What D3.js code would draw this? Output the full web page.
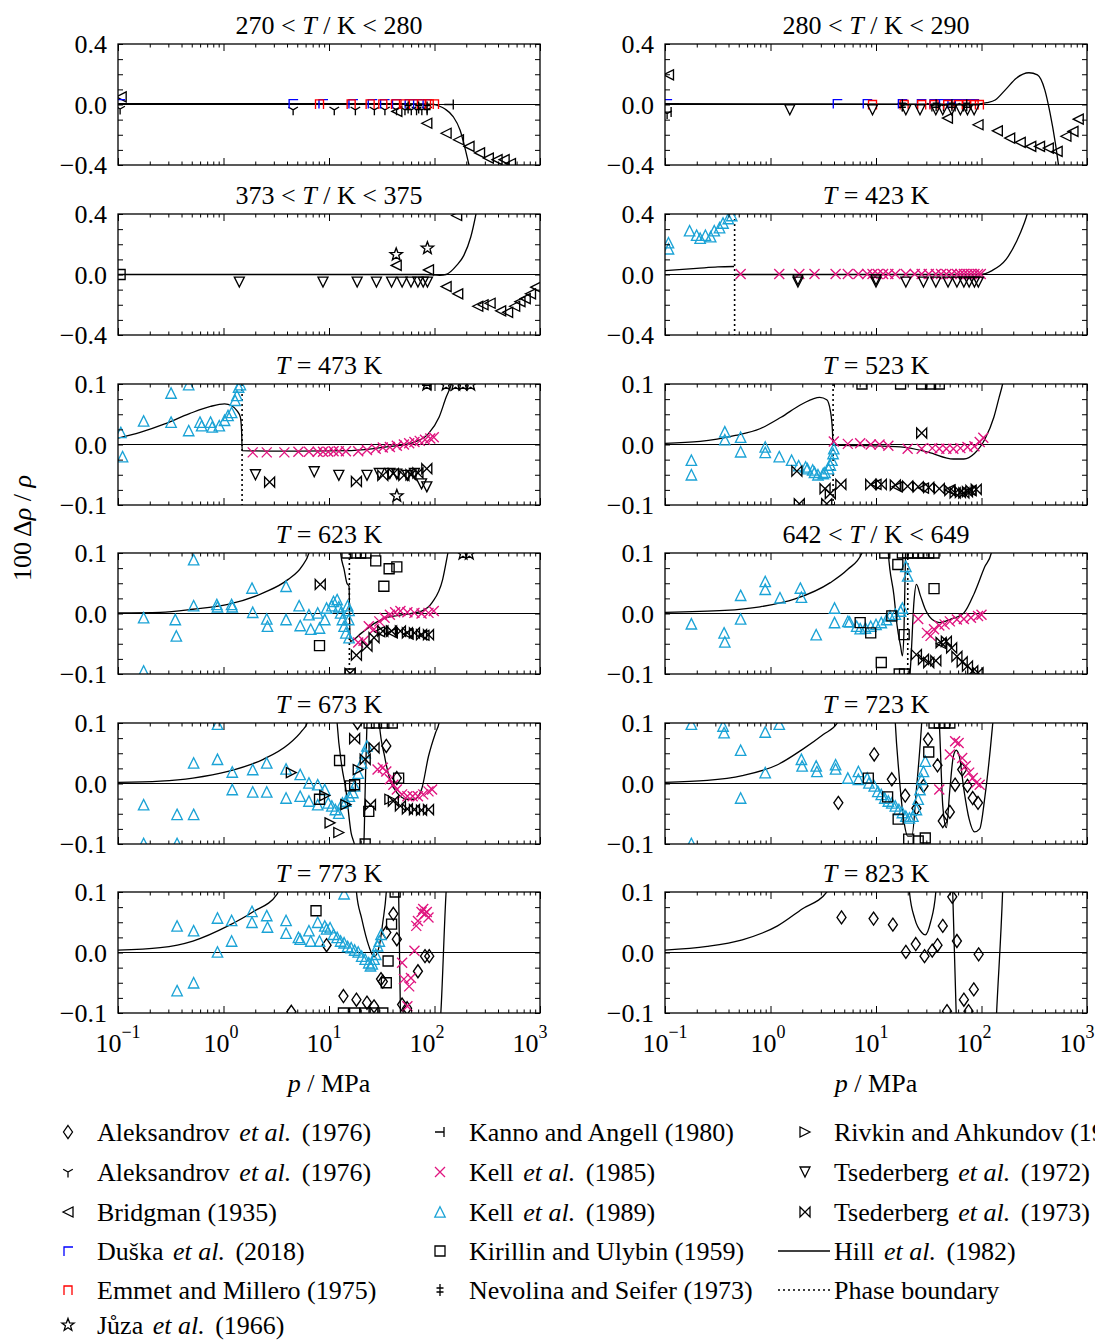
<!DOCTYPE html>
<html>
<head>
<meta charset="utf-8">
<script src="https://cdn.jsdelivr.net/npm/d3@7"></script>
<style>
  body { margin: 0; background: #fff; }
  svg { display: block; font-family: "Liberation Serif", "DejaVu Serif", serif; }
</style>
</head>
<body>
<svg id="chart"></svg>
<script>
// panel titles, y limits and phase boundary pressure (MPa) per panel
const panelTitles = ["270 < T / K < 280", "280 < T / K < 290", "373 < T / K < 375", "T = 423 K",
  "T = 473 K", "T = 523 K", "T = 623 K", "642 < T / K < 649",
  "T = 673 K", "T = 723 K", "T = 773 K", "T = 823 K"];
const yLimits = [0.4, 0.4, 0.4, 0.4, 0.1, 0.1, 0.1, 0.1, 0.1, 0.1, 0.1, 0.1];
const phaseBoundary = [null, null, null, 0.457, 1.50, 3.92, 15.6, 20.0, null, null, null, null];
const xTickExponents = [-1, 0, 1, 2, 3];

// data points: [panel, log10(p / MPa), 100 Δρ/ρ]
const aleksandrov1976a = [
  [8,1.543,0.062],[8,1.27,0.1],[8,1.643,0.009],
  [9,0.643,-0.032],[9,0.983,0.048],[9,1.15,0.007],[9,1.277,-0.02],[9,1.383,-0.041],[9,1.45,-0.004],[9,1.493,0.073],
  [9,1.583,0.03],[9,1.633,-0.062],[9,1.70,-0.047],[9,1.75,-0.002],[9,1.817,0.023],[9,1.867,-0.004],[9,1.917,-0.024],[9,1.967,-0.032],
  [10,0.977,0.012],[10,0.643,-0.098],[10,1.137,-0.072],[10,1.26,-0.078],[10,1.36,-0.083],[10,1.427,-0.089],[10,1.493,-0.044],
  [10,1.51,-0.048],[10,1.543,0.033],[10,1.61,0.064],[10,1.643,0.022],[10,1.693,-0.086],[10,1.74,-0.092],[10,1.843,-0.031],
  [10,1.91,-0.006],[10,1.95,-0.006],
  [11,0.673,0.058],[11,0.977,0.056],[11,1.16,0.046],[11,1.283,0.001],[11,1.377,0.014],[11,1.46,-0.006],[11,1.533,0.003],
  [11,1.583,0.012],[11,1.633,0.044],[11,1.723,0.092],[11,1.767,0.019],[11,1.673,-0.097],[11,1.833,-0.078],[11,1.877,-0.097],
  [11,1.927,-0.061],[11,1.973,-0.003]
];
const aleksandrov1976b = [
  [0,-0.98,-0.03],[0,0.66,-0.035],[0,1.05,-0.035],[0,1.25,-0.035],[0,1.43,-0.035],[0,1.53,-0.035],[0,1.64,-0.035],
  [0,1.72,-0.035],[0,1.78,-0.035],[0,1.83,-0.035],[0,1.88,-0.035],[0,1.93,-0.035],
  [1,-0.98,-0.06],[1,1.25,-0.01],[1,1.53,-0.01],[1,1.64,-0.01],[1,1.75,-0.01],[1,1.83,-0.01]
];
const bridgman1935 = [
  [0,-0.97,0.05],[0,1.643,-0.046],[0,1.927,-0.124],[0,2.11,-0.19],[0,2.227,-0.233],[0,2.327,-0.277],[0,2.427,-0.32],
  [0,2.51,-0.354],[0,2.593,-0.365],[0,2.66,-0.365],[0,2.72,-0.39],
  [1,-0.967,0.196],[1,1.677,-0.09],[1,1.967,-0.134],[1,2.15,-0.174],[1,2.267,-0.222],[1,2.367,-0.25],[1,2.467,-0.277],
  [1,2.55,-0.277],[1,2.633,-0.288],[1,2.717,-0.31],[1,2.8,-0.21],[1,2.867,-0.178],[1,2.917,-0.097],
  [2,1.637,0.06],[2,1.943,0.03],[2,2.11,-0.08],[2,2.22,-0.128],[2,2.41,-0.21],[2,2.46,-0.2],[2,2.527,-0.19],[2,2.627,-0.24],
  [2,2.693,-0.25],[2,2.76,-0.21],[2,2.81,-0.18],[2,2.86,-0.16],[2,2.91,-0.128],[2,2.96,-0.084],[2,2.21,0.39],
  [5,1.0,-0.066],[5,1.2,-0.07],[5,1.45,-0.072],[5,1.7,-0.075],[5,1.9,-0.076],
  [6,1.48,-0.03],[6,1.6,-0.032],[6,1.75,-0.034],[6,1.9,-0.036],
  [7,1.62,-0.05]
];
const duska2018 = [
  [0,-0.98,0.006],[0,0.66,0.006],[0,0.943,0.006],[0,1.227,0.006],[0,1.41,0.006],[0,1.527,0.006],[0,1.64,0.006],
  [0,1.76,0.006],[0,1.84,0.006],[0,1.93,0.006],
  [1,-0.98,0.006],[1,0.633,0.006],[1,0.917,0.006],[1,1.25,0.006],[1,1.43,0.006],[1,1.55,0.006],[1,1.64,0.006],
  [1,1.72,0.006],[1,1.79,0.006],[1,1.86,0.006],[1,1.93,0.006]
];
const emmet1975 = [
  [0,0.91,0.004],[0,1.21,0.004],[0,1.39,0.004],[0,1.51,0.004],[0,1.63,0.004],[0,1.72,0.004],[0,1.8,0.004],
  [0,1.88,0.004],[0,1.95,0.004],[0,2.0,0.004],
  [1,0.967,0.0],[1,1.267,0.0],[1,1.433,0.0],[1,1.55,0.0],[1,1.68,0.0],[1,1.78,0.0],[1,1.86,0.0],[1,1.93,0.0],[1,1.98,0.0]
];
const juza1966 = [
  [2,1.637,0.132],[2,1.933,0.174],
  [4,1.643,-0.085],[4,1.927,0.099],[4,2.11,0.099],[4,2.2,0.099],[4,2.27,0.099],[4,2.343,0.099],
  [6,2.27,0.099],[6,2.33,0.099]
];
const kanno1980 = [[0,2.14,0.0],[1,-0.98,-0.05],[4,1.93,0.098]];
const kell1985 = [
  [3,-0.283,0.003],[3,0.083,0.003],[3,0.273,0.003],[3,0.417,0.003],[3,0.617,0.003],[3,0.733,0.003],[3,0.833,0.003],
  [3,0.917,0.003],[3,0.967,0.003],[3,1.017,0.003],[3,1.067,0.003],[3,1.117,0.003],[3,1.183,0.003],[3,1.283,0.003],
  [3,1.367,0.003],[3,1.433,0.003],[3,1.5,0.003],[3,1.567,0.003],[3,1.617,0.003],[3,1.667,0.003],[3,1.717,0.003],
  [3,1.767,0.003],[3,1.8,0.003],[3,1.833,0.003],[3,1.867,0.003],[3,1.9,0.003],[3,1.933,0.003],[3,1.967,0.003],[3,1.993,0.003],
  [4,0.277,-0.013],[4,0.41,-0.013],[4,0.577,-0.013],[4,0.71,-0.012],[4,0.81,-0.012],[4,0.893,-0.012],[4,0.943,-0.012],
  [4,0.993,-0.012],[4,1.043,-0.011],[4,1.093,-0.011],[4,1.16,-0.011],[4,1.277,-0.011],[4,1.36,-0.009],[4,1.443,-0.007],
  [4,1.51,-0.005],[4,1.577,-0.004],[4,1.643,-0.002],[4,1.71,0.0],[4,1.76,0.002],[4,1.81,0.004],[4,1.86,0.006],
  [4,1.91,0.008],[4,1.96,0.01],[4,1.993,0.012],
  [5,0.6,0.005],[5,0.733,0.001],[5,0.85,0.002],[5,0.95,0.0],[5,1.033,0.0],[5,1.117,-0.002],[5,1.3,-0.007],[5,1.433,-0.007],
  [5,1.533,-0.006],[5,1.6,-0.007],[5,1.667,-0.007],[5,1.733,-0.007],[5,1.8,-0.006],[5,1.867,-0.004],[5,1.933,-0.003],
  [5,1.983,0.004],[5,2.017,0.011],
  [6,1.277,-0.048],[6,1.327,-0.045],[6,1.377,-0.021],[6,1.427,-0.026],[6,1.477,-0.013],[6,1.527,-0.007],[6,1.577,-0.002],
  [6,1.627,0.002],[6,1.677,0.004],[6,1.743,0.002],[6,1.81,0.001],[6,1.877,0.0],[6,1.943,0.001],[6,1.993,0.004],
  [7,1.4,-0.009],[7,1.483,-0.032],[7,1.517,-0.037],[7,1.55,-0.026],[7,1.6,-0.02],[7,1.65,-0.018],[7,1.7,-0.013],
  [7,1.767,-0.01],[7,1.833,-0.009],[7,1.9,-0.007],[7,1.967,-0.004],[7,2.0,-0.002],
  [8,1.46,0.023],[8,1.51,0.026],[8,1.543,0.02],[8,1.577,0.007],[8,1.61,-0.002],[8,1.643,-0.01],[8,1.693,-0.018],
  [8,1.743,-0.021],[8,1.793,-0.021],[8,1.843,-0.021],[8,1.893,-0.018],[8,1.943,-0.013],[8,1.977,-0.01],
  [9,1.6,-0.01],[9,1.7,0.048],[9,1.75,0.07],[9,1.783,0.067],[9,1.817,0.042],[9,1.85,0.029],[9,1.883,0.018],
  [9,1.917,0.009],[9,1.95,0.001],[9,1.983,-0.002],
  [10,1.693,-0.017],[10,1.71,-0.044],[10,1.76,-0.056],[10,1.777,-0.042],[10,1.81,0.003],[10,1.743,-0.089],[10,1.827,0.044],
  [10,1.843,0.052],[10,1.877,0.067],[10,1.893,0.072],[10,1.91,0.064],[10,1.927,0.067],[10,1.943,0.058]
];
const kell1989 = [
  [3,-0.967,0.21],[3,-0.967,0.17],[3,-0.767,0.29],[3,-0.70,0.26],[3,-0.667,0.24],[3,-0.617,0.26],[3,-0.567,0.25],
  [3,-0.533,0.29],[3,-0.483,0.31],[3,-0.45,0.34],[3,-0.4,0.37],[3,-0.367,0.39],
  [4,-0.973,0.02],[4,-0.957,-0.02],[4,-0.757,0.039],[4,-0.497,0.085],[4,-0.33,0.099],[4,-0.497,0.037],[4,-0.33,0.023],
  [4,-0.223,0.037],[4,-0.207,0.031],[4,-0.123,0.037],[4,-0.107,0.029],[4,-0.04,0.031],[4,0.01,0.04],[4,0.043,0.048],
  [4,0.077,0.053],[4,0.11,0.073],[4,0.127,0.081],[4,0.143,0.095],[4,0.16,0.099],
  [5,-0.75,-0.026],[5,-0.75,-0.05],[5,-0.433,0.021],[5,-0.433,0.008],[5,-0.283,0.012],[5,-0.283,-0.012],[5,-0.05,-0.004],
  [5,-0.05,-0.013],[5,0.083,-0.02],[5,0.2,-0.026],[5,0.267,-0.035],[5,0.333,-0.037],[5,0.35,-0.04],[5,0.4,-0.042],
  [5,0.417,-0.046],[5,0.45,-0.05],[5,0.5,-0.048],[5,0.517,-0.046],[5,0.55,-0.04],[5,0.567,-0.034],[5,0.583,-0.026],
  [5,0.593,-0.015],[5,0.6,-0.007],
  [6,-0.757,-0.007],[6,-0.757,-0.095],[6,-0.457,-0.01],[6,-0.447,-0.037],[6,-0.283,0.089],[6,-0.283,0.013],[6,-0.063,0.015],
  [6,-0.057,0.011],[6,0.077,0.015],[6,0.083,0.011],[6,0.27,0.042],[6,0.277,0.002],[6,0.41,-0.009],[6,0.417,-0.021],
  [6,0.593,0.045],[6,0.593,-0.01],[6,0.717,0.013],[6,0.727,-0.02],[6,0.81,-0.002],[6,0.827,-0.026],[6,0.893,0.001],
  [6,0.91,-0.024],[6,0.96,-0.01],[6,0.977,0.009],[6,1.027,0.013],[6,1.043,0.02],[6,1.077,0.023],[6,1.093,0.011],
  [6,1.11,0.001],[6,1.127,-0.01],[6,1.143,-0.021],[6,1.16,-0.032],[6,1.177,0.013],[6,1.187,-0.01],[6,1.19,-0.04],[6,1.19,0.005],
  [7,-0.75,-0.017],[7,-0.44,-0.032],[7,-0.433,-0.047],[7,-0.283,0.03],[7,-0.283,-0.009],[7,-0.05,0.053],[7,-0.05,0.04],
  [7,0.09,0.026],[7,0.283,0.042],[7,0.293,0.027],[7,0.433,-0.035],[7,0.607,0.009],[7,0.607,-0.015],[7,0.733,-0.013],
  [7,0.75,-0.014],[7,0.817,-0.021],[7,0.85,-0.025],[7,0.9,-0.024],[7,0.95,-0.021],[7,1.0,-0.018],[7,1.05,-0.015],
  [7,1.1,-0.01],[7,1.133,-0.004],[7,1.183,-0.001],[7,1.233,0.004],[7,1.25,0.009],[7,1.283,0.078],[7,1.3,0.062],
  [8,-0.757,-0.035],[8,-0.757,-0.099],[8,-0.44,-0.051],[8,-0.44,-0.099],[8,-0.283,-0.051],[8,-0.283,0.034],[8,-0.057,0.098],
  [8,-0.057,0.04],[8,0.083,0.019],[8,0.083,-0.01],[8,0.277,0.023],[8,0.277,-0.014],[8,0.41,0.034],[8,0.41,-0.014],
  [8,0.593,0.024],[8,0.593,-0.024],[8,0.727,0.015],[8,0.727,-0.021],[8,0.81,0.001],[8,0.81,-0.029],[8,0.893,-0.002],
  [8,0.893,-0.035],[8,0.96,-0.01],[8,0.993,-0.032],[8,1.027,-0.037],[8,1.06,-0.043],[8,1.093,-0.049],[8,1.127,-0.032],
  [8,1.16,-0.029],[8,1.193,-0.021],[8,1.227,-0.015],[8,1.243,-0.004],[8,1.277,0.017],[8,1.31,0.034],[8,1.343,0.051],[8,1.36,0.062],
  [9,-0.75,0.098],[9,-0.75,-0.099],[9,-0.45,0.095],[9,-0.44,0.084],[9,-0.283,0.055],[9,-0.283,-0.024],[9,-0.05,0.085],
  [9,-0.05,0.018],[9,0.083,0.098],[9,0.293,0.04],[9,0.3,0.029],[9,0.433,0.029],[9,0.44,0.02],[9,0.617,0.031],[9,0.617,0.024],
  [9,0.733,0.009],[9,0.833,0.02],[9,0.833,0.007],[9,0.917,0.009],[9,0.933,0.001],[9,0.983,-0.004],[9,1.017,-0.013],
  [9,1.05,-0.018],[9,1.083,-0.024],[9,1.117,-0.029],[9,1.15,-0.032],[9,1.183,-0.037],[9,1.217,-0.043],[9,1.25,-0.048],
  [9,1.283,-0.054],[9,1.317,-0.057],[9,1.35,-0.054],[9,1.383,-0.043],[9,1.4,-0.026],[9,1.417,-0.01],[9,1.433,0.007],
  [9,1.45,0.02],[9,1.467,0.037],
  [10,-0.44,0.044],[10,-0.44,-0.063],[10,-0.283,0.036],[10,-0.283,-0.05],[10,-0.057,0.057],[10,-0.057,0.001],[10,0.077,0.053],
  [10,0.077,0.019],[10,0.27,0.068],[10,0.27,0.05],[10,0.41,0.061],[10,0.417,0.042],[10,0.593,0.053],[10,0.593,0.032],
  [10,0.71,0.025],[10,0.727,0.022],[10,0.81,0.036],[10,0.827,0.019],[10,0.893,0.05],[10,0.91,0.019],[10,0.96,0.044],
  [10,0.977,0.039],[10,1.01,0.041],[10,1.043,0.03],[10,1.077,0.025],[10,1.11,0.019],[10,1.143,0.016],[10,1.177,0.01],
  [10,1.21,0.008],[10,1.243,0.004],[10,1.277,0.001],[10,1.31,-0.006],[10,1.343,-0.011],[10,1.377,-0.017],[10,1.393,-0.022],
  [10,1.41,-0.019],[10,1.427,-0.011],[10,1.443,-0.003],[10,1.46,0.011],[10,1.477,0.019],[10,1.493,0.03],[10,1.143,0.097]
];
const kirillin1959 = [
  [2,-0.98,0.0],
  [5,0.867,0.1],[5,1.233,0.1],[5,1.433,0.1],[5,1.517,0.1],[5,1.6,0.1],
  [6,0.91,-0.053],[6,1.443,0.087],[6,1.57,0.074],[6,1.643,0.077],[6,1.52,0.045],[6,1.17,0.1],[6,1.25,0.1],[6,1.3,0.1],
  [6,1.35,0.1],[6,1.2,-0.1],
  [7,0.85,-0.015],[7,0.95,-0.032],[7,1.05,-0.081],[7,1.15,-0.004],[7,1.207,0.081],[7,1.55,0.041],[7,1.083,0.1],
  [7,1.267,-0.035],[7,1.25,0.1],[7,1.3,0.1],[7,1.35,0.1],[7,1.4,0.1],[7,1.45,0.1],[7,1.5,0.1],[7,1.55,0.1],[7,1.22,-0.1],[7,1.27,-0.1],
  [8,1.1,0.038],[8,1.203,-0.004],[8,1.243,-0.002],[8,0.91,-0.026],[8,1.377,-0.046],[8,1.343,-0.1],[8,1.66,0.009],
  [8,1.38,0.1],[8,1.45,0.1],[8,1.52,0.1],[8,1.6,0.1],
  [9,0.927,0.009],[9,1.11,-0.022],[9,1.21,-0.059],[9,1.31,-0.092],[9,1.4,-0.095],[9,1.467,-0.09],[9,1.5,0.052],
  [9,1.55,0.1],[9,1.6,0.1],[9,1.65,0.1],[9,1.7,0.1],
  [10,0.877,0.069],[10,1.56,-0.014],[10,1.543,-0.05],[10,1.593,0.047],[10,1.627,0.1],[10,1.137,-0.1],[10,1.243,-0.1],
  [10,1.343,-0.1],[10,1.427,-0.1],[10,1.51,-0.1]
];
const nevolina1973 = [
  [0,1.75,-0.02],[0,1.85,-0.02],[0,1.93,-0.02],
  [1,1.25,-0.005],[1,1.57,-0.005],[1,1.72,-0.005],[1,1.86,-0.005]
];
const rivkin1978 = [[8,0.643,0.018],[8,0.96,-0.02],[8,1.01,-0.065],[8,1.093,-0.081],[8,1.16,-0.035],[8,1.277,0.023],[8,1.577,-0.026]];
const tsederberg1972 = [
  [1,0.183,-0.035],[1,0.967,-0.035],[1,1.283,-0.035],[1,1.417,-0.035],[1,1.567,-0.035],[1,1.633,-0.035],[1,1.717,-0.035],
  [1,1.8,-0.035],[1,1.867,-0.035],[1,1.93,-0.035],
  [2,0.15,-0.05],[2,0.943,-0.05],[2,1.267,-0.05],[2,1.45,-0.05],[2,1.593,-0.05],[2,1.693,-0.05],[2,1.777,-0.05],
  [2,1.843,-0.05],[2,1.893,-0.05],[2,1.933,-0.05],
  [3,0.26,-0.05],[3,0.26,-0.035],[3,1.0,-0.05],[3,1.0,-0.035],[3,1.283,-0.05],[3,1.45,-0.05],[3,1.567,-0.05],[3,1.683,-0.05],
  [3,1.767,-0.05],[3,1.833,-0.05],[3,1.883,-0.05],[3,1.933,-0.05],[3,1.97,-0.05],
  [4,0.303,-0.05],[4,0.86,-0.045],[4,1.093,-0.051],[4,1.36,-0.051],[4,1.477,-0.048],[4,1.577,-0.048],[4,1.643,-0.049],
  [4,1.743,-0.051],[4,1.81,-0.048],[4,1.877,-0.065],[4,1.927,-0.07]
];
const tsederberg1973 = [
  [4,0.437,-0.062],[4,1.26,-0.061],[4,1.51,-0.051],[4,1.61,-0.048],[4,1.71,-0.051],[4,1.777,-0.05],[4,1.843,-0.047],[4,1.927,-0.04],
  [5,0.25,-0.044],[5,0.517,-0.073],[5,0.567,-0.081],[5,0.667,-0.066],[5,0.273,-0.098],[5,0.533,-0.098],[5,1.433,0.019],
  [5,0.95,-0.066],[5,1.05,-0.066],[5,1.183,-0.067],[5,1.3,-0.069],[5,1.4,-0.07],[5,1.5,-0.071],[5,1.6,-0.073],[5,1.7,-0.076],
  [5,1.75,-0.08],[5,1.8,-0.079],[5,1.833,-0.08],[5,1.867,-0.078],[5,1.9,-0.076],[5,1.95,-0.074],
  [6,0.917,0.048],[6,1.26,-0.069],[6,1.36,-0.054],[6,1.427,-0.04],[6,1.51,-0.029],[6,1.593,-0.029],[6,1.677,-0.029],
  [6,1.743,-0.032],[6,1.81,-0.032],[6,1.877,-0.035],[6,1.943,-0.035],[6,1.2,-0.099],
  [7,1.383,-0.068],[7,1.45,-0.076],[7,1.5,-0.081],[7,1.567,-0.078],[7,1.617,-0.048],[7,1.667,-0.046],[7,1.717,-0.057],
  [7,1.767,-0.071],[7,1.817,-0.08],[7,1.867,-0.087],[7,1.917,-0.095],[7,1.967,-0.098],
  [8,1.243,0.074],[8,1.343,0.04],[8,1.427,0.059],[8,1.393,-0.035],[8,1.61,-0.029],[8,1.677,-0.037],[8,1.743,-0.042],
  [8,1.81,-0.043],[8,1.877,-0.044],[8,1.943,-0.043]
];

// Hill et al. (1982) curves: [panel, [[log10(p / MPa), 100 Δρ/ρ], ...]]
const hill1982 = [
  [0, [[-1,0.005],[1.5,0.005],[1.9,0.004],[2.0,0.0],[2.043,-0.01],[2.1,-0.03],[2.177,-0.08],[2.243,-0.17],[2.293,-0.3],[2.327,-0.4],[2.36,-0.5]]],
  [1, [[-1,0.005],[1.9,0.003],[1.98,0.004],[2.05,0.012],[2.13,0.03],[2.23,0.1],[2.33,0.174],[2.45,0.21],[2.53,0.196],[2.6,0.097],[2.65,-0.057],[2.7,-0.255],[2.73,-0.4],[2.76,-0.55]]],
  [2, [[-1,0.0],[1.9,0.0],[2.05,-0.005],[2.11,0.0],[2.21,0.06],[2.277,0.125],[2.343,0.246],[2.393,0.4],[2.42,0.5]]],
  [3, [[-1,0.026],[-0.7,0.04],[-0.5,0.05],[-0.345,0.053]]],
  [3, [[-0.34,0.0],[1.983,0.0],[2.1,0.026],[2.233,0.1],[2.333,0.22],[2.4,0.33],[2.433,0.4],[2.45,0.45]]],
  [4, [[-1,0.0105],[-0.79,0.02],[-0.557,0.034],[-0.323,0.051],[-0.123,0.063],[0.01,0.067],[0.077,0.064],[0.127,0.056],[0.16,0.045],[0.172,0.02],[0.177,-0.01],[0.6,-0.011],[1.21,-0.01],[1.543,-0.004],[1.81,0.004],[1.943,0.018],[2.043,0.045],[2.11,0.078],[2.16,0.1],[2.2,0.13]]],
  [5, [[-1,0.002],[-0.667,0.005],[-0.333,0.015],[-0.1,0.026],[0.1,0.045],[0.3,0.067],[0.467,0.078],[0.533,0.074],[0.567,0.056],[0.587,0.023],[0.593,0.0],[0.6,-0.001],[0.9,-0.002],[1.233,-0.004],[1.5,-0.013],[1.733,-0.024],[1.833,-0.024],[1.933,-0.015],[2.033,0.009],[2.117,0.045],[2.167,0.078],[2.2,0.1],[2.23,0.13]]],
  [6, [[-1,0.001],[-0.6,0.002],[-0.29,0.007],[0.043,0.015],[0.377,0.034],[0.61,0.056],[0.743,0.078],[0.81,0.1],[0.85,0.13]]],
  [6, [[1.09,0.15],[1.11,0.1],[1.143,0.073],[1.17,0.05],[1.19,0.045],[1.2,-0.046],[1.31,-0.032],[1.443,-0.015],[1.543,-0.007],[1.7,-0.002],[1.877,0.004],[1.977,0.018],[2.077,0.056],[2.127,0.1],[2.16,0.13]]],
  [7, [[-1,0.002],[-0.433,0.005],[-0.1,0.011],[0.233,0.024],[0.567,0.051],[0.733,0.073],[0.867,0.1],[0.9,0.12]]],
  [7, [[1.10,0.15],[1.117,0.1],[1.17,0.03],[1.2,-0.02],[1.233,-0.054],[1.25,-0.07],[1.265,-0.03],[1.28,0.1],[1.29,0.15]]],
  [7, [[1.30,-0.15],[1.33,-0.08],[1.36,0.02],[1.383,0.048],[1.42,0.03],[1.467,0.007],[1.533,-0.01],[1.6,-0.015],[1.7,-0.01],[1.833,0.001],[1.933,0.034],[2.033,0.078],[2.093,0.1],[2.12,0.13]]],
  [8, [[-1,0.002],[-0.6,0.004],[-0.29,0.009],[0.043,0.02],[0.377,0.04],[0.61,0.064],[0.743,0.087],[0.793,0.1],[0.83,0.13]]],
  [8, [[1.06,0.15],[1.077,0.1],[1.12,0.03],[1.16,-0.01],[1.21,-0.082],[1.24,-0.1],[1.26,-0.12],[1.31,-0.12],[1.33,-0.1],[1.343,-0.01],[1.36,0.1],[1.37,0.15]]],
  [8, [[1.46,0.15],[1.477,0.1],[1.527,0.045],[1.577,0.007],[1.643,-0.015],[1.743,-0.026],[1.81,-0.026],[1.877,-0.01],[1.943,0.045],[2.01,0.084],[2.043,0.1],[2.07,0.13]]],
  [9, [[-1,0.002],[-0.6,0.005],[-0.267,0.013],[0.067,0.031],[0.3,0.056],[0.5,0.081],[0.633,0.1],[0.68,0.13]]],
  [9, [[1.17,0.15],[1.183,0.1],[1.217,0.018],[1.267,-0.065],[1.3,-0.087],[1.34,-0.087],[1.383,-0.01],[1.433,0.1],[1.45,0.15]]],
  [9, [[1.58,0.15],[1.6,0.1],[1.633,-0.037],[1.667,-0.073],[1.7,-0.01],[1.733,0.045],[1.76,0.055],[1.79,0.045],[1.833,-0.01],[1.883,-0.059],[1.933,-0.08],[1.983,-0.075],[2.033,-0.021],[2.083,0.056],[2.107,0.1],[2.13,0.14]]],
  [10, [[-1,0.004],[-0.6,0.008],[-0.29,0.019],[0.043,0.044],[0.277,0.067],[0.51,0.097],[0.55,0.12]]],
  [10, [[1.24,0.15],[1.26,0.1],[1.31,0.056],[1.377,0.011],[1.427,-0.007],[1.477,0.011],[1.51,0.05],[1.543,0.1],[1.56,0.15]]],
  [10, [[1.65,0.15],[1.66,0.1],[1.677,-0.1],[1.69,-0.15]]],
  [10, [[2.04,-0.15],[2.06,-0.1],[2.11,0.1],[2.13,0.15]]],
  [11, [[-1,0.004],[-0.6,0.01],[-0.267,0.021],[0.067,0.044],[0.3,0.072],[0.533,0.1],[0.57,0.12]]],
  [11, [[1.30,0.15],[1.317,0.1],[1.367,0.056],[1.433,0.033],[1.467,0.029],[1.517,0.05],[1.567,0.1],[1.58,0.15]]],
  [11, [[1.72,0.15],[1.727,0.1],[1.76,-0.1],[1.77,-0.15]]],
  [11, [[2.13,-0.15],[2.143,-0.1],[2.2,0.1],[2.21,0.15]]]
];

const cyan = "#1ba3d6", magenta = "#e0157f";

function starPath(ro, ri) {
  let pts = [];
  for (let k = 0; k < 10; k++) {
    const r = k % 2 ? ri : ro, a = -Math.PI / 2 + k * Math.PI / 5;
    pts.push([r * Math.cos(a), r * Math.sin(a)]);
  }
  return "M" + pts.map(p => p[0].toFixed(2) + "," + p[1].toFixed(2)).join("L") + "Z";
}

const shapes = {
  diamond: "M0,-6.5L4.5,0L0,6.5L-4.5,0Z",
  triY: "M0,0V5.5M0,0L-4.8,-2.8M0,0L4.8,-2.8",
  triLeft: "M-5,0L5,-5L5,5Z",
  triRight: "M5,0L-5,-5L-5,5Z",
  triUp: "M0,-5.2L5.2,5.2L-5.2,5.2Z",
  triDown: "M0,5L5,-5L-5,-5Z",
  corner: "M-4,5V-4H5",
  cap: "M-4,5V-4H4V5",
  tickT: "M-5,0H4M4,-5V5",
  dagger: "M0,-6V6M-3.5,-2H3.5M-3.5,2H3.5",
  cross: "M-5,-5L5,5M-5,5L5,-5",
  square: "M-5,-5H5V5H-5Z",
  bowtie: "M-5,-5L5,5V-5L-5,5Z",
  star: starPath(6.5, 2.7)
};

const series = [
  { label: "Aleksandrov et al. (1976)", data: aleksandrov1976a, shape: "diamond", color: "#000" },
  { label: "Aleksandrov et al. (1976)", data: aleksandrov1976b, shape: "triY", color: "#000" },
  { label: "Bridgman (1935)", data: bridgman1935, shape: "triLeft", color: "#000" },
  { label: "Duška et al. (2018)", data: duska2018, shape: "corner", color: "#0000ff" },
  { label: "Emmet and Millero (1975)", data: emmet1975, shape: "cap", color: "#ff0000" },
  { label: "Jůza et al. (1966)", data: juza1966, shape: "star", color: "#000" },
  { label: "Kanno and Angell (1980)", data: kanno1980, shape: "tickT", color: "#000" },
  { label: "Kell et al. (1985)", data: kell1985, shape: "cross", color: magenta },
  { label: "Kell et al. (1989)", data: kell1989, shape: "triUp", color: cyan },
  { label: "Kirillin and Ulybin (1959)", data: kirillin1959, shape: "square", color: "#000" },
  { label: "Nevolina and Seifer (1973)", data: nevolina1973, shape: "dagger", color: "#000" },
  { label: "Rivkin and Ahkundov (1978)", data: rivkin1978, shape: "triRight", color: "#000" },
  { label: "Tsederberg et al. (1972)", data: tsederberg1972, shape: "triDown", color: "#000" },
  { label: "Tsederberg et al. (1973)", data: tsederberg1973, shape: "bowtie", color: "#000" }
];

const W = 1095, H = 1340;
const colLeft = [118, 665], panelW = 422, panelH = 121;
const rowTop = [44, 214, 384, 553, 723, 892];
const fs = 26;

const svg = d3.select("#chart").attr("width", W).attr("height", H);
svg.append("rect").attr("width", W).attr("height", H).attr("fill", "#fff");

function addItalicT(textSel, str) {
  const parts = str.split("T");
  parts.forEach((p, i) => {
    if (p) textSel.append("tspan").text(p);
    if (i < parts.length - 1) textSel.append("tspan").attr("font-style", "italic").text("T");
  });
}

const minorTicks = [];
for (let e = -1; e < 3; e++) for (let m = 2; m < 10; m++) minorTicks.push(m * 10 ** e);
const majorTicks = xTickExponents.map(e => 10 ** e);

panelTitles.forEach((title, i) => {
  const col = i % 2, row = Math.floor(i / 2);
  const x0 = colLeft[col], top = rowTop[row];
  const lim = yLimits[i];
  const x = d3.scaleLog().domain([0.1, 1000]).range([x0, x0 + panelW]);
  const y = d3.scaleLinear().domain([-lim, lim]).range([top + panelH, top]);
  const g = svg.append("g");

  g.append("clipPath").attr("id", "clip" + i)
    .append("rect").attr("x", x0).attr("y", top).attr("width", panelW).attr("height", panelH);
  const plot = g.append("g").attr("clip-path", `url(#clip${i})`);

  // zero line
  plot.append("line").attr("x1", x0).attr("x2", x0 + panelW)
    .attr("y1", y(0)).attr("y2", y(0)).attr("stroke", "#000").attr("stroke-width", 1);

  // Hill et al. curve
  const line = d3.line().x(d => x(10 ** d[0])).y(d => y(d[1])).curve(d3.curveMonotoneX);
  hill1982.filter(h => h[0] === i).forEach(h => {
    plot.append("path").attr("d", line(h[1])).attr("fill", "none")
      .attr("stroke", "#000").attr("stroke-width", 1.3);
  });

  // phase boundary
  if (phaseBoundary[i] !== null) {
    plot.append("line").attr("x1", x(phaseBoundary[i])).attr("x2", x(phaseBoundary[i]))
      .attr("y1", top).attr("y2", top + panelH)
      .attr("stroke", "#000").attr("stroke-width", 1.6).attr("stroke-dasharray", "2,3");
  }

  // markers
  series.forEach(s => {
    plot.selectAll(null)
      .data(s.data.filter(d => d[0] === i))
      .enter()
      .append("path")
      .attr("d", shapes[s.shape])
      .attr("transform", d => `translate(${x(10 ** d[1])},${y(d[2])})`)
      .attr("fill", "none")
      .attr("stroke", s.color)
      .attr("stroke-width", 1.35);
  });

  // ticks (inward, all four sides)
  const addAxis = (axis, tx, ty) => {
    const a = g.append("g").attr("transform", `translate(${tx},${ty})`).call(axis);
    a.select(".domain").remove();
    a.selectAll(".tick line").attr("stroke", "#000").attr("stroke-width", 1);
  };
  addAxis(d3.axisBottom(x).tickValues(majorTicks).tickSizeInner(-7).tickSizeOuter(0).tickFormat(""), 0, top + panelH);
  addAxis(d3.axisBottom(x).tickValues(minorTicks).tickSizeInner(-3.5).tickSizeOuter(0).tickFormat(""), 0, top + panelH);
  addAxis(d3.axisTop(x).tickValues(majorTicks).tickSizeInner(-7).tickSizeOuter(0).tickFormat(""), 0, top);
  addAxis(d3.axisTop(x).tickValues(minorTicks).tickSizeInner(-3.5).tickSizeOuter(0).tickFormat(""), 0, top);
  const yTicks = d3.range(-4, 5).map(k => k * lim / 4);
  addAxis(d3.axisLeft(y).tickValues(yTicks).tickSizeInner(-5).tickSizeOuter(0).tickFormat(""), x0, 0);
  addAxis(d3.axisRight(y).tickValues(yTicks).tickSizeInner(-5).tickSizeOuter(0).tickFormat(""), x0 + panelW, 0);

  // box
  g.append("rect").attr("x", x0).attr("y", top).attr("width", panelW).attr("height", panelH)
    .attr("fill", "none").attr("stroke", "#000").attr("stroke-width", 1.3);

  // y tick labels
  g.selectAll(null).data([-lim, 0, lim]).enter().append("text")
    .attr("x", x0 - 11).attr("y", d => y(d)).attr("dy", "0.36em")
    .attr("text-anchor", "end").attr("font-size", fs)
    .text(d => d3.format(".1f")(d));

  // title
  const t = g.append("text").attr("x", x0 + panelW / 2).attr("y", top - 10)
    .attr("text-anchor", "middle").attr("font-size", fs);
  addItalicT(t, title);

  // x tick labels and axis label on bottom row
  if (row === 5) {
    xTickExponents.forEach(e => {
      const tl = g.append("text").attr("x", x(10 ** e) - (e + 1) * 2.5).attr("y", top + panelH + 39)
        .attr("text-anchor", "middle").attr("font-size", fs);
      tl.append("tspan").text("10");
      tl.append("tspan").attr("dy", -14).attr("font-size", 18).text(e < 0 ? "−" + (-e) : e);
    });
    const xl = g.append("text").attr("x", x0 + panelW / 2).attr("y", top + panelH + 79)
      .attr("text-anchor", "middle").attr("font-size", fs);
    xl.append("tspan").attr("font-style", "italic").text("p");
    xl.append("tspan").text(" / MPa");
  }
});

// y axis label
const yl = svg.append("text").attr("transform", "translate(31,528) rotate(-90)")
  .attr("text-anchor", "middle").attr("font-size", fs);
yl.append("tspan").text("100 Δ");
yl.append("tspan").attr("font-style", "italic").text("ρ");
yl.append("tspan").text(" / ");
yl.append("tspan").attr("font-style", "italic").text("ρ");

// legend
const legendRows = [1132, 1172, 1212, 1251, 1290, 1325];
const legendCols = [68, 440, 805];
const legendItems = series.map(s => ({ label: s.label, shape: s.shape, color: s.color }))
  .concat([{ label: "Hill et al. (1982)", line: "solid" }, { label: "Phase boundary", line: "dotted" }]);
const legendOrder = [
  [0, 0], [0, 1], [0, 2], [0, 3], [0, 4], [0, 5],
  [1, 0], [1, 1], [1, 2], [1, 3], [1, 4],
  [2, 0], [2, 1], [2, 2], [2, 3], [2, 4]
];
const legend = svg.append("g");
legendItems.forEach((item, k) => {
  const [c, r] = legendOrder[k];
  const mx = legendCols[c], my = legendRows[r];
  if (item.line) {
    legend.append("line").attr("x1", mx - 27).attr("x2", mx + 25).attr("y1", my).attr("y2", my)
      .attr("stroke", "#000").attr("stroke-width", 1.4)
      .attr("stroke-dasharray", item.line === "dotted" ? "2,3" : null);
  } else {
    legend.append("path").attr("d", shapes[item.shape])
      .attr("transform", `translate(${mx},${my})`)
      .attr("fill", "none").attr("stroke", item.color).attr("stroke-width", 1.3);
  }
  const tx = legend.append("text").attr("x", mx + 29).attr("y", my + 8.5).attr("font-size", fs);
  const parts = item.label.split("et al.");
  parts.forEach((p, j) => {
    if (p) tx.append("tspan").attr("dx", j > 0 ? 4 : 0).text(p);
    if (j < parts.length - 1) tx.append("tspan").attr("dx", 3).attr("font-style", "italic").text("et al.");
  });
});
</script>
</body>
</html>
